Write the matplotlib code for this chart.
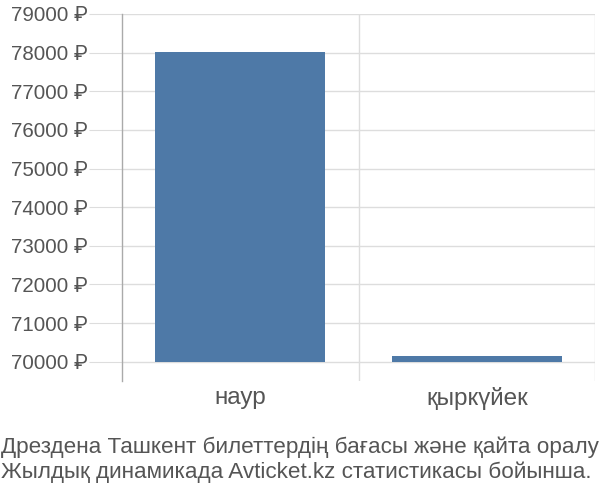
import matplotlib
matplotlib.use("Agg")
import matplotlib.pyplot as plt
from matplotlib.ticker import FuncFormatter

categories = ["наур", "қыркүйек"]
values = [78020, 70150]
base = 70000
yticks = list(range(70000, 79001, 1000))
caption = ["Дрездена Ташкент билеттердің бағасы және қайта оралу",
           "Жылдық динамикада Avticket.kz статистикасы бойынша."]

fam = ["Liberation Sans", "Roboto", "DejaVu Sans"]
txt = "#555555"
grid = "#dddddd"

fig = plt.figure(figsize=(6, 5), dpi=100)
ax = fig.add_axes([122/600, 1-381/500, (595-122)/600, (381-14)/500])

x = list(range(len(categories)))
ax.bar(x, [v - base for v in values], bottom=base, width=0.72, color="#4e79a7", zorder=3)

ax.set_xlim(-0.5, len(categories) - 0.5)
ax.set_ylim(69500, 79000)
ax.set_yticks(yticks)
ax.yaxis.set_major_formatter(FuncFormatter(lambda v, p: f"{int(v)} ₽"))
ax.set_xticks(x)
ax.set_xticklabels(categories)

ax.grid(axis="y", color=grid, linewidth=1, zorder=0)
for b in [0.5, 1.5]:
    ax.axvline(b, color=grid, linewidth=1, zorder=0)

for s in ["top", "right", "bottom"]:
    ax.spines[s].set_visible(False)
ax.spines["left"].set_color("#aaaaaa")
ax.spines["left"].set_linewidth(1)

ax.tick_params(axis="y", length=24, color=grid, pad=1, labelsize=14.8, labelcolor=txt)
ax.tick_params(axis="x", length=0, pad=4, labelsize=17.5, labelcolor=txt)
for lab in ax.get_yticklabels() + ax.get_xticklabels():
    lab.set_family(fam)

fig.text(0.001, 1-447/500, caption[0], ha="left", va="center", fontsize=16.2, color=txt, family=fam)
fig.text(0.001, 1-472/500, caption[1], ha="left", va="center", fontsize=16.2, color=txt, family=fam)

fig.savefig("out.png", dpi=100)
